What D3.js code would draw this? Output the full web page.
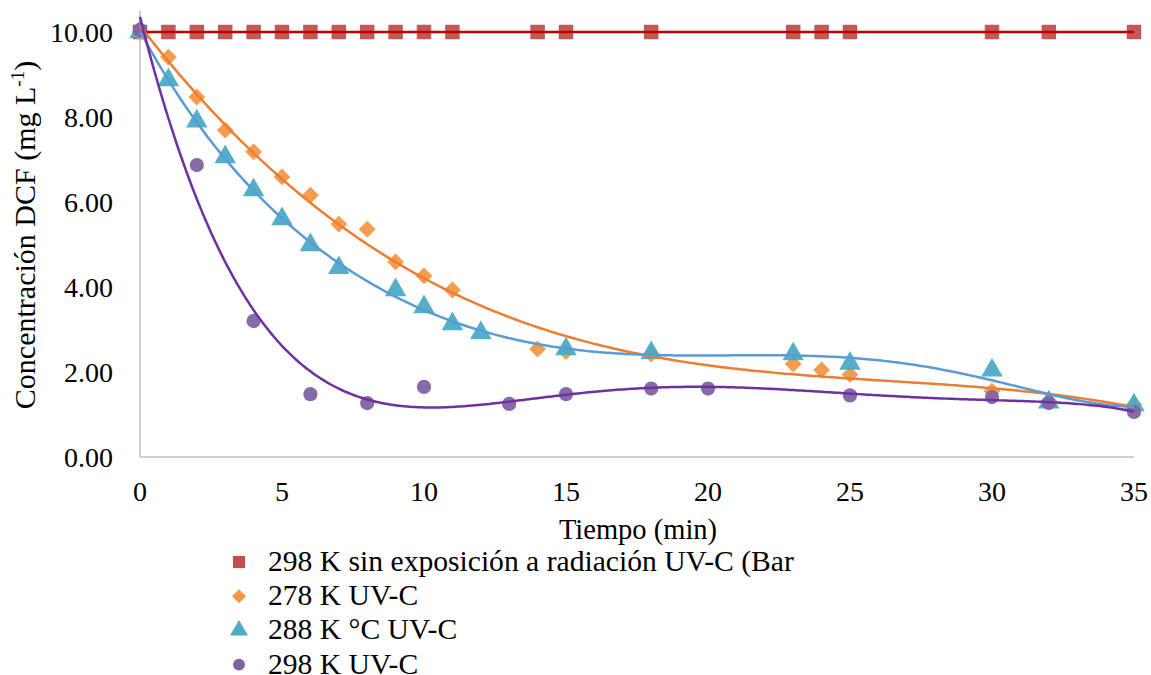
<!DOCTYPE html>
<html>
<head>
<meta charset="utf-8">
<script src="https://cdn.jsdelivr.net/npm/d3@7"></script>
<style>
  body { margin: 0; background: #fff; }
</style>
</head>
<body>
<svg id="chart" width="1151" height="675"></svg>
<script>
// tiempo (min) y concentración DCF (mg/L)
const tBlank = [0, 1, 2, 3, 4, 5, 6, 7, 8, 9, 10, 11, 14, 15, 18, 23, 24, 25, 30, 32, 35];
const cBlank = tBlank.map(() => 10.0);

const t278 = [0, 1, 2, 3, 4, 5, 6, 7, 8, 9, 10, 11, 14, 15, 18, 23, 24, 25, 30, 32, 35];
const c278 = [10.0, 9.41, 8.47, 7.69, 7.18, 6.59, 6.16, 5.48, 5.36, 4.59, 4.26, 3.93, 2.54, 2.48, 2.42, 2.19, 2.05, 1.94, 1.55, 1.32, 1.23];

const t288 = [0, 1, 2, 3, 4, 5, 6, 7, 9, 10, 11, 12, 15, 18, 23, 25, 30, 32, 35];
const c288 = [10.0, 8.87, 7.9, 7.06, 6.28, 5.6, 4.99, 4.45, 3.93, 3.53, 3.13, 2.92, 2.54, 2.45, 2.42, 2.2, 2.04, 1.29, 1.22];

const t298 = [0, 2, 4, 6, 8, 10, 13, 15, 18, 20, 25, 30, 32, 35];
const c298 = [10.05, 6.87, 3.2, 1.48, 1.27, 1.65, 1.25, 1.48, 1.61, 1.61, 1.45, 1.41, 1.27, 1.06];

const xTicks = [0, 5, 10, 15, 20, 25, 30, 35];
const yTicks = [0, 2, 4, 6, 8, 10];

const legendLabels = [
  "298 K sin exposición a radiación UV-C (Bar",
  "278 K UV-C",
  "288 K °C UV-C",
  "298 K UV-C"
];

const series = [
  { t: tBlank, c: cBlank, order: 1, marker: "square", fill: "#C0504D", line: "#C00000" },
  { t: t278, c: c278, order: 3, marker: "diamond", fill: "#F79646", line: "#ED7D31" },
  { t: t288, c: c288, order: 6, marker: "triangle", fill: "#4BACC6", line: "#5B9BD5" },
  { t: t298, c: c298, order: 5, marker: "circle", fill: "#8064A2", line: "#7030A0" }
];

const FONT = "Liberation Serif";

const svg = d3.select("#chart");

const x = d3.scaleLinear().domain([0, 35]).range([140, 1134]);
const y = d3.scaleLinear().domain([0, 10]).range([457, 32]);

// ajuste polinómico por mínimos cuadrados (línea de tendencia)
function polyFit(xs, ys, order) {
  const s = 35;
  const n = order + 1;
  const A = [];
  for (let i = 0; i < n; i++) {
    A.push(new Array(n + 1).fill(0));
  }
  xs.forEach((xv, k) => {
    const u = xv / s;
    for (let i = 0; i < n; i++) {
      for (let j = 0; j < n; j++) A[i][j] += Math.pow(u, i + j);
      A[i][n] += ys[k] * Math.pow(u, i);
    }
  });
  for (let i = 0; i < n; i++) {
    let p = i;
    for (let r = i + 1; r < n; r++) if (Math.abs(A[r][i]) > Math.abs(A[p][i])) p = r;
    [A[i], A[p]] = [A[p], A[i]];
    for (let r = 0; r < n; r++) {
      if (r === i) continue;
      const f = A[r][i] / A[i][i];
      for (let c = i; c <= n; c++) A[r][c] -= f * A[i][c];
    }
  }
  const coef = A.map((row, i) => row[n] / row[i]);
  return function(xv) {
    const u = xv / s;
    let v = 0;
    for (let i = n - 1; i >= 0; i--) v = v * u + coef[i];
    return v;
  };
}

// ejes
svg.append("line")
  .attr("x1", x(0)).attr("x2", x(35))
  .attr("y1", y(0)).attr("y2", y(0))
  .attr("stroke", "#bfbfbf").attr("stroke-width", 1.5);
svg.append("line")
  .attr("x1", x(0)).attr("x2", x(0))
  .attr("y1", y(0)).attr("y2", y(10.5))
  .attr("stroke", "#bfbfbf").attr("stroke-width", 1.5);

svg.selectAll(".ytick")
  .data(yTicks)
  .enter().append("text")
  .attr("class", "ytick")
  .attr("x", 113)
  .attr("y", d => y(d) + 10)
  .attr("text-anchor", "end")
  .style("font-family", FONT)
  .style("font-size", "28px")
  .text(d => d.toFixed(2));

svg.selectAll(".xtick")
  .data(xTicks)
  .enter().append("text")
  .attr("class", "xtick")
  .attr("x", d => x(d))
  .attr("y", 501)
  .attr("text-anchor", "middle")
  .style("font-family", FONT)
  .style("font-size", "28px")
  .text(d => d);

svg.append("text")
  .attr("x", 638)
  .attr("y", 539)
  .attr("text-anchor", "middle")
  .style("font-family", FONT)
  .style("font-size", "28.5px")
  .text("Tiempo (min)");

const yTitle = svg.append("text")
  .attr("transform", "translate(35,235) rotate(-90)")
  .attr("text-anchor", "middle")
  .style("font-family", FONT)
  .style("font-size", "30px");
yTitle.append("tspan").text("Concentración DCF (mg L");
yTitle.append("tspan").attr("dy", -11).style("font-size", "19px").text("-1");
yTitle.append("tspan").attr("dy", 11).text(")");

// marcadores
const size = { square: 210, diamond: 180, triangle: 200, circle: 160 };
const symType = {
  square: d3.symbolSquare,
  diamond: d3.symbolDiamond2,
  triangle: d3.symbolTriangle,
  circle: d3.symbolCircle
};

function drawMarkers(s) {
  const sym = d3.symbol().type(symType[s.marker]).size(size[s.marker]);
  svg.append("g").selectAll("path")
    .data(s.t.map((tv, i) => [tv, s.c[i]]))
    .enter().append("path")
    .attr("d", sym)
    .attr("transform", d => `translate(${x(d[0])},${y(d[1])})`)
    .attr("fill", s.fill)
    .attr("fill-opacity", 0.95);
}

function drawTrend(s) {
  const f = polyFit(s.t, s.c, s.order);
  const pts = d3.range(0, 35.001, 0.1).map(tv => [tv, f(tv)]);
  const line = d3.line().x(d => x(d[0])).y(d => y(d[1]));
  svg.append("path")
    .datum(pts)
    .attr("d", line)
    .attr("fill", "none")
    .attr("stroke", s.line)
    .attr("stroke-width", 2.5);
}

series.forEach(drawMarkers);
series.forEach(drawTrend);

// leyenda
const legend = svg.append("g");
legendLabels.forEach((lab, i) => {
  const ly = 562 + i * 34.2;
  const s = series[i];
  legend.append("path")
    .attr("d", d3.symbol().type(symType[s.marker]).size(size[s.marker] * 0.7)())
    .attr("transform", `translate(239,${ly})`)
    .attr("fill", s.fill);
  legend.append("text")
    .attr("x", 268)
    .attr("y", ly + 9)
    .style("font-family", FONT)
    .style("font-size", "29.6px")
    .text(lab);
});
</script>
</body>
</html>
